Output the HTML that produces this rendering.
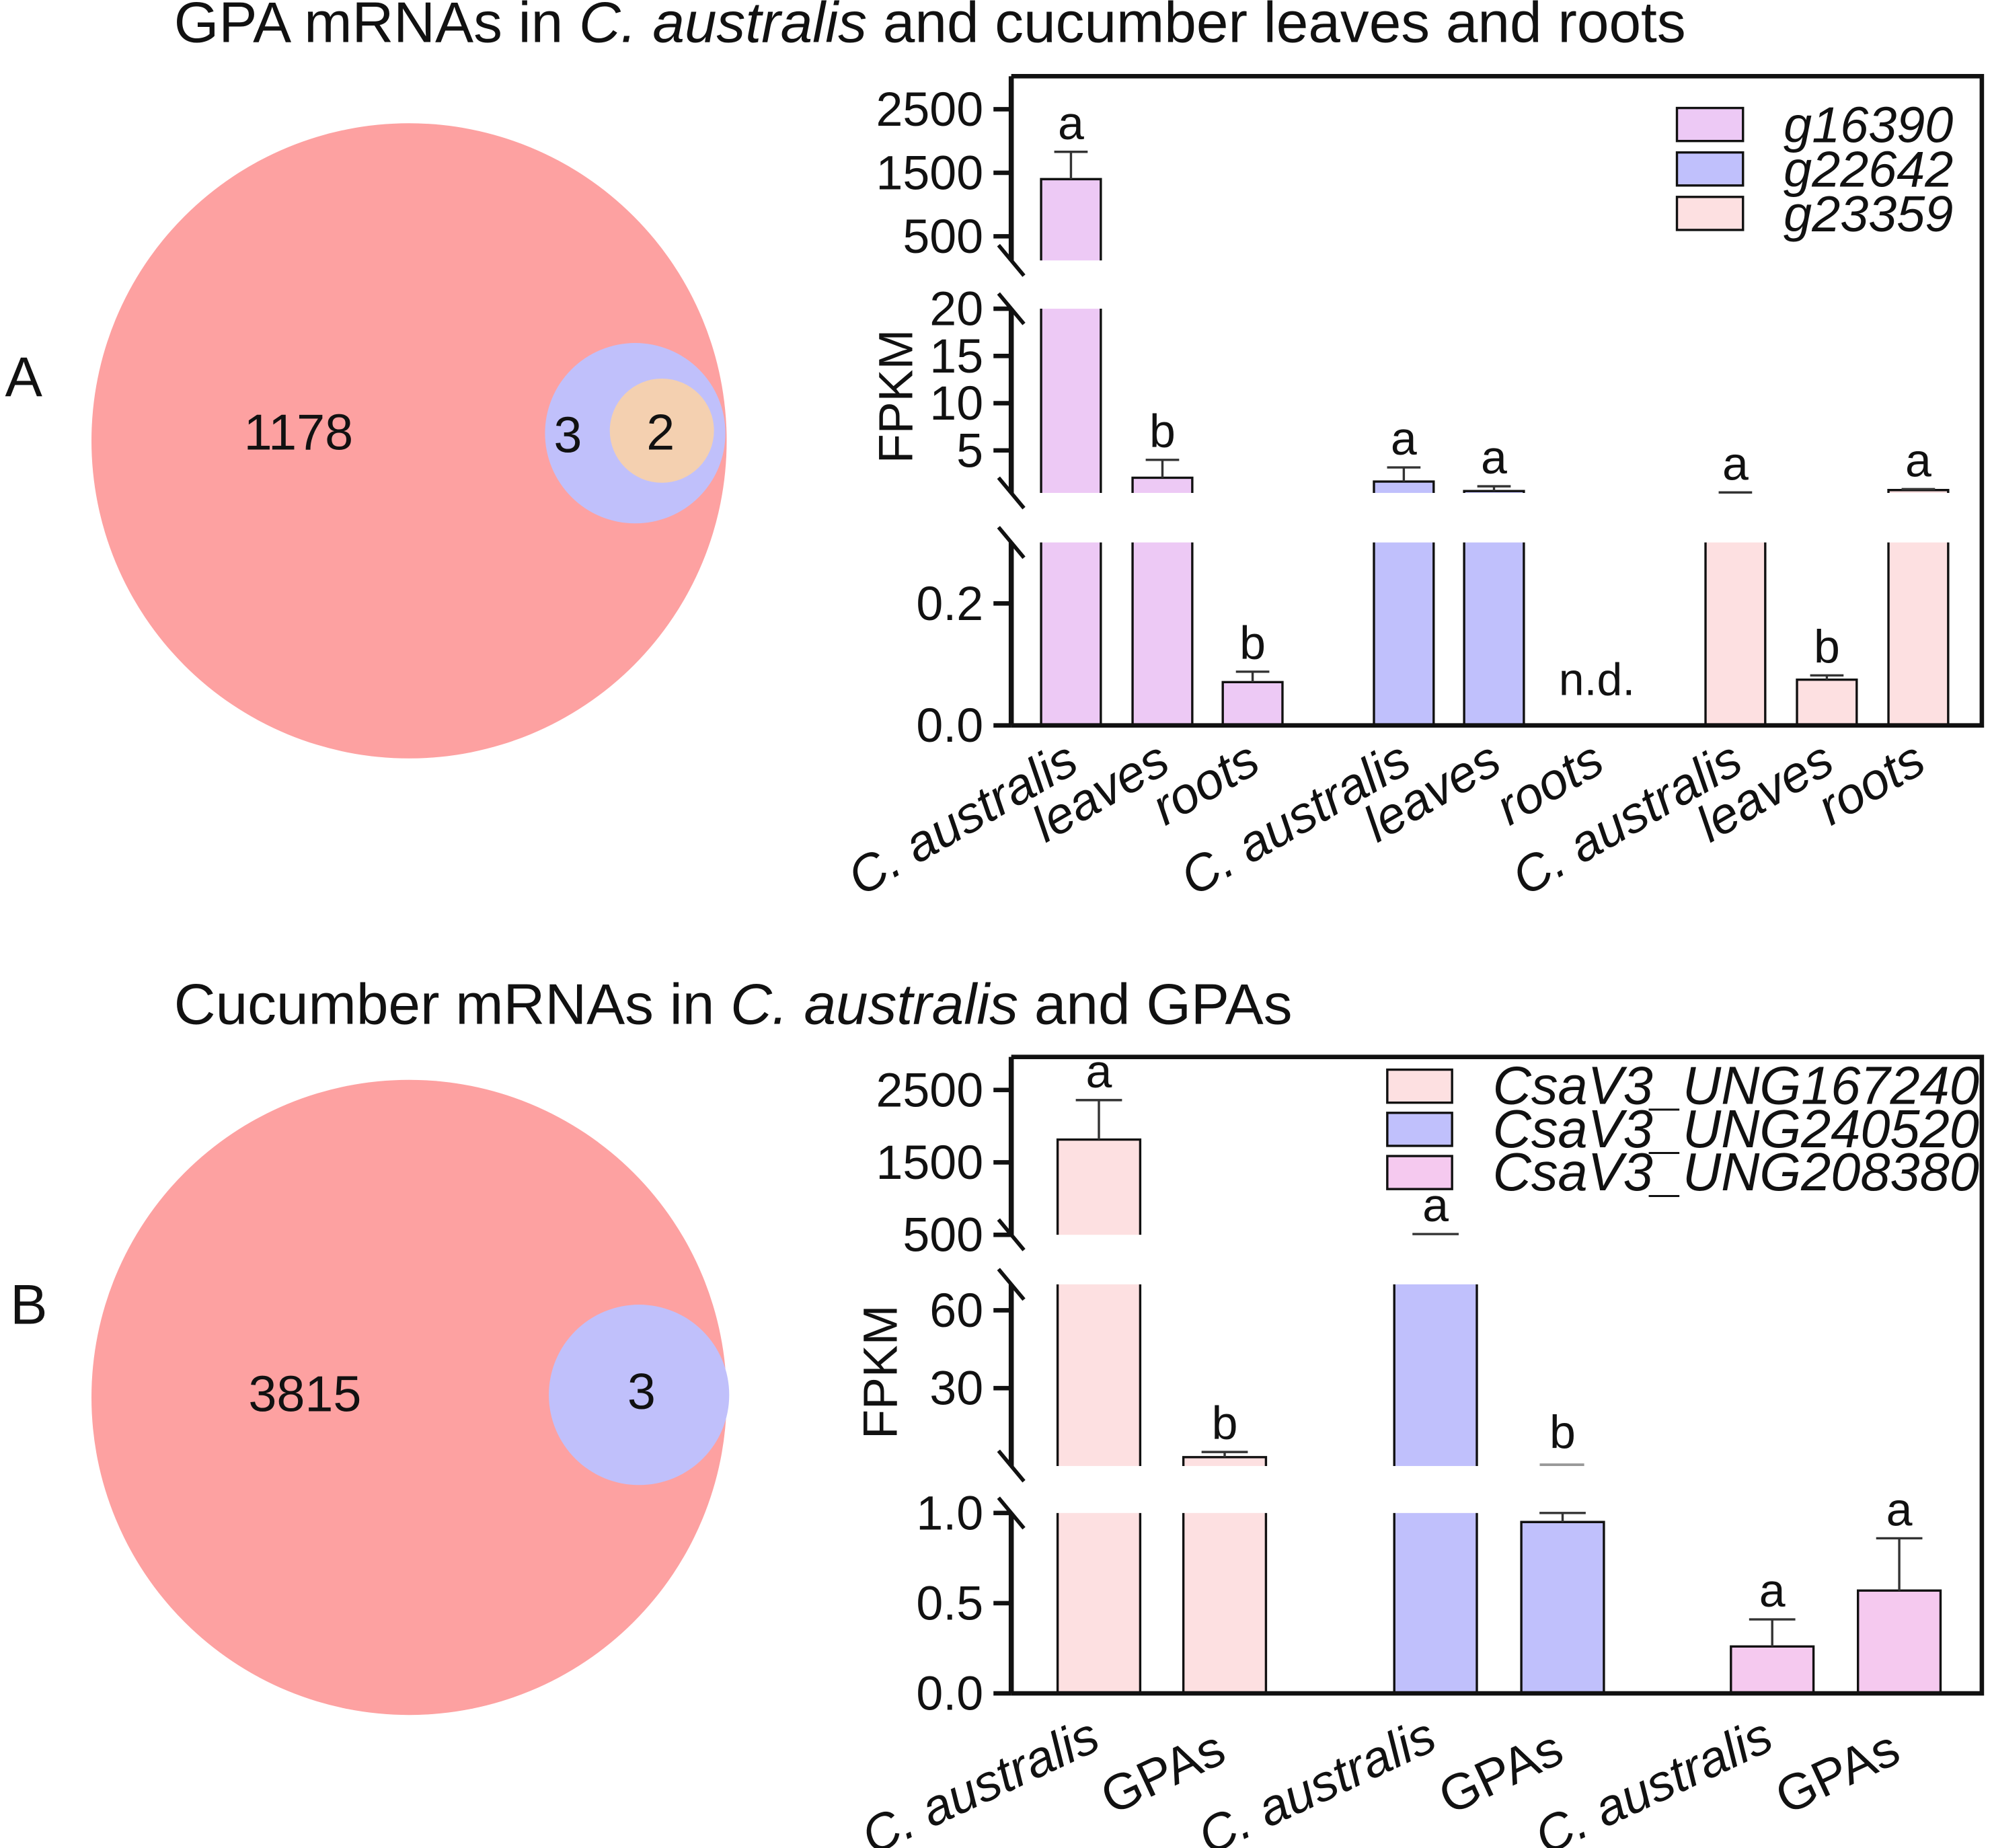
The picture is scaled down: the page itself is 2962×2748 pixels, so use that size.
<!DOCTYPE html>
<html><head><meta charset="utf-8"><style>
html,body{margin:0;padding:0;background:#fff}
svg{display:block}
text{font-family:"Liberation Sans",sans-serif;fill:#111}
</style></head><body>
<svg id="fig" width="2962" height="2748" viewBox="0 0 1568 1454.7" xmlns="http://www.w3.org/2000/svg">
<text x="137" y="33" font-size="45.3">GPA mRNAs in <tspan font-style="italic">C. australis</tspan> and cucumber leaves and roots</text>
<text x="137" y="806" font-size="45.3">Cucumber mRNAs in <tspan font-style="italic">C. australis</tspan> and GPAs</text>
<text x="4" y="312" font-size="44">A</text>
<text x="8" y="1042" font-size="44">B</text>
<g>
<circle cx="322" cy="347" r="250" fill="#fda1a1"/>
<circle cx="500" cy="341" r="71" fill="#c0c0fb"/>
<circle cx="521" cy="339" r="41" fill="#f4d0b0"/>
<text x="235" y="354" font-size="40" text-anchor="middle">1178</text>
<text x="447" y="356" font-size="40" text-anchor="middle">3</text>
<text x="520" y="354" font-size="40" text-anchor="middle">2</text>
</g>
<g>
<circle cx="322" cy="1100" r="250" fill="#fda1a1"/>
<circle cx="503" cy="1098" r="71" fill="#c0c0fb"/>
<text x="240" y="1111" font-size="40" text-anchor="middle">3815</text>
<text x="505" y="1109" font-size="40" text-anchor="middle">3</text>
</g>
<g id="chartA"></g>
<g id="chartB"></g>
</svg>
<script>
// ---- Chart A data ----
const aCategories = ["C. australis","leaves","roots","C. australis","leaves","roots","C. australis","leaves","roots"];
const aSeries = ["g16390","g22642","g23359"];
const aValues = [1400, 2.1, 0.071, 1.7, 0.7, null, 0.5, 0.075, 0.8];
const aErrors = [1830, 4.0, 0.088, 3.2, 1.2, null, 0.55, 0.082, 0.9];
const aLetters = ["a","b","b","a","a","n.d.","a","b","a"];
const aTickValues = [0, 0.2, 5, 10, 15, 20, 500, 1500, 2500];
const aTickLabels = ["0.0","0.2","5","10","15","20","500","1500","2500"];
// ---- Chart B data ----
const bCategories = ["C. australis","GPAs","C. australis","GPAs","C. australis","GPAs"];
const bSeries = ["CsaV3_UNG167240","CsaV3_UNG240520","CsaV3_UNG208380"];
const bValues = [1815, 3.4, 480, 0.95, 0.26, 0.57];
const bErrors = [2360, 5.4, 510, 1.0, 0.41, 0.86];
const bLetters = ["a","b","a","b","a","a"];
const bTickValues = [0, 0.5, 1.0, 30, 60, 500, 1500, 2500];
const bTickLabels = ["0.0","0.5","1.0","30","60","500","1500","2500"];

const NS="http://www.w3.org/2000/svg";
function mk(parent,tag,attrs,txt){const e=document.createElementNS(NS,tag);for(const k in attrs)e.setAttribute(k,attrs[k]);if(txt!==undefined)e.textContent=txt;parent.appendChild(e);return e;}

function segOf(segs,v){for(let i=0;i<segs.length;i++){if(v>=segs[i].lo-1e-9&&v<=segs[i].hi+1e-9)return i;}return -1;}
function yAt(s,v){return s.yLo+(v-s.lo)*(s.yHi-s.yLo)/(s.hi-s.lo);}

function drawChart(g,cfg){
  const {segs,box,xCenters,barW,values,errors,letters,colorsByIdx,tickValues,tickLabels,cats,catItalic,rot,legend,seriesNames,legendColors}=cfg;
  values.forEach((v,i)=>{
    if(v===null){
      const t=mk(g,'text',{x:xCenters[i],y:cfg.ndY,'font-size':36,'text-anchor':'middle'},letters[i]);
      
      
      return;
    }
    segs.forEach((s,k)=>{
      const prevHi = k>0 ? segs[k-1].hi : -Infinity;
      if(v>s.lo && v>prevHi){
        const cut = v>s.hi;
        const top=yAt(s,Math.min(v,s.hi));
        const x0=xCenters[i]-barW/2, x1=xCenters[i]+barW/2;
        const r=mk(g,'rect',{x:x0,y:top,width:barW,height:s.yLo-top,fill:colorsByIdx[i],stroke:'none'});
        
        
        const d = cut ? `M${x0},${s.yLo} L${x0},${top} M${x1},${top} L${x1},${s.yLo}` : `M${x0},${s.yLo} L${x0},${top} L${x1},${top} L${x1},${s.yLo}`;
        const o=mk(g,'path',{d:d,fill:'none',stroke:'#111','stroke-width':1.8});
        
        
      }
    });
    const e=errors[i];
    const si=segOf(segs,v), se=segOf(segs,e);
    let topY;
    if(se>=0){
      const ye=yAt(segs[se],e);
      if(si===se){
        const l=mk(g,'line',{x1:xCenters[i],x2:xCenters[i],y1:yAt(segs[si],v),y2:ye,stroke:'#333','stroke-width':1.8});
        
        
      }
      const c=mk(g,'line',{x1:xCenters[i]-barW*0.28,x2:xCenters[i]+barW*0.28,y1:ye,y2:ye,stroke:'#333','stroke-width':1.8});
      
      
      topY=ye;
    } else topY=yAt(segs[si],v);
    if(cfg.letterY && cfg.letterY[i]!==undefined) topY=cfg.letterY[i];
    const t=mk(g,'text',{x:xCenters[i],y:topY-10,'font-size':37,'text-anchor':'middle'},letters[i]);
    
    
  });
  const f=mk(g,'path',{d:`M${box.l},${box.bottom} L${box.r},${box.bottom} L${box.r},${box.t} L${box.l},${box.t}`,fill:'none',stroke:'#111','stroke-width':3.5});
  
  
  segs.forEach((s,k)=>{
    const yb=(k===0)?box.bottom:s.yLo;
    const yt=(k===segs.length-1)?box.t:s.yHi;
    const a=mk(g,'line',{x1:box.l,x2:box.l,y1:yb,y2:yt,stroke:'#111','stroke-width':4});
    
    
    if(k>0){
      const b=mk(g,'line',{x1:box.l-10,x2:box.l+10,y1:yb-12,y2:yb+12,stroke:'#111','stroke-width':3});
      
      
    }
    if(k<segs.length-1){
      const b=mk(g,'line',{x1:box.l-10,x2:box.l+10,y1:yt-12,y2:yt+12,stroke:'#111','stroke-width':3});
      
      
    }
  });
  tickValues.forEach((tv,i)=>{
    const si=segOf(segs,tv); if(si<0)return;
    const y=yAt(segs[si],tv);
    const l=mk(g,'line',{x1:box.l-14,x2:box.l,y1:y,y2:y,stroke:'#111','stroke-width':3.5});
    
    
    const t=mk(g,'text',{x:box.l-22,y:y+13,'font-size':38,'text-anchor':'end'},tickLabels[i]);
    
    
  });
  const yl=mk(g,'text',{x:0,y:0,'font-size':38,'text-anchor':'middle',transform:`translate(${cfg.yTitle[0]},${cfg.yTitle[1]}) rotate(-90)`},'FPKM');
  
  
  cats.forEach((c,i)=>{
    const x=xCenters[i]+cfg.xOff, y=cfg.xLabY+(cfg.xLabDy?cfg.xLabDy[i]:0);
    const t=mk(g,'text',{x:x,y:y,'font-size':40,'text-anchor':'end','font-style':catItalic[i]?'italic':'normal',transform:`rotate(${rot} ${x} ${y})`},c);
    
    
  });
  seriesNames.forEach((n,i)=>{
    const y=legend.y+i*legend.dy;
    const r=mk(g,'rect',{x:legend.x,y:y,width:legend.w,height:26,fill:legendColors[i],stroke:'#111','stroke-width':1.8});
    
    
    const t=mk(g,'text',{x:legend.tx,y:y+27,'font-size':legend.fs,'font-style':'italic'},n);
    
    
  });
}

const pink="#edc9f5", blue="#c0c0fc", peach="#fde0e1", pink2="#f5c9ef";
drawChart(document.getElementById('chartA'),{
  segs:[{lo:0,hi:0.3,yLo:571,yHi:427},{lo:0.5,hi:20,yLo:388,yHi:243},{lo:120,hi:2500,yLo:205,yHi:86}],
  box:{l:796,r:1560,t:60,bottom:571},
  xCenters:[843,915,986,1105,1176,1257,1366,1438,1510], barW:47,
  values:aValues, errors:aErrors, letters:aLetters,
  colorsByIdx:[pink,pink,pink,blue,blue,blue,peach,peach,peach],
  tickValues:aTickValues, tickLabels:aTickLabels,
  cats:aCategories, catItalic:aCategories.map(()=>true), rot:-30, xOff:8, xLabY:606, ndY:547,
  yTitle:[718,312],
  legend:{x:1320,y:85,dy:35,w:52,tx:1404,fs:40},
  seriesNames:aSeries, legendColors:[pink,blue,peach]
});
drawChart(document.getElementById('chartB'),{
  segs:[{lo:0,hi:1.0,yLo:1333,yHi:1191},{lo:0,hi:70,yLo:1154,yHi:1011},{lo:500,hi:2500,yLo:972,yHi:858}],
  box:{l:796,r:1560,t:832,bottom:1333},
  xCenters:[865,964,1130,1230,1395,1495], barW:65,
  values:bValues, errors:bErrors, letters:bLetters,
  colorsByIdx:[peach,peach,blue,blue,pink2,pink2],
  tickValues:bTickValues, tickLabels:bTickLabels,
  cats:bCategories, catItalic:bCategories.map(c=>c!=="GPAs"), rot:-25, xOff:3, xLabY:1376,
  xLabDy:[0,10,0,10,0,10], ndY:0,
  letterY:{3:1150},
  yTitle:[706,1080],
  legend:{x:1092,y:842,dy:34,w:51,tx:1175,fs:42},
  seriesNames:bSeries, legendColors:[peach,blue,pink2]
});
const gb=document.getElementById('chartB');
const gl=mk(gb,'line',{x1:1212,x2:1247,y1:1153,y2:1153,stroke:'#999','stroke-width':2});


</script>
</body></html>
